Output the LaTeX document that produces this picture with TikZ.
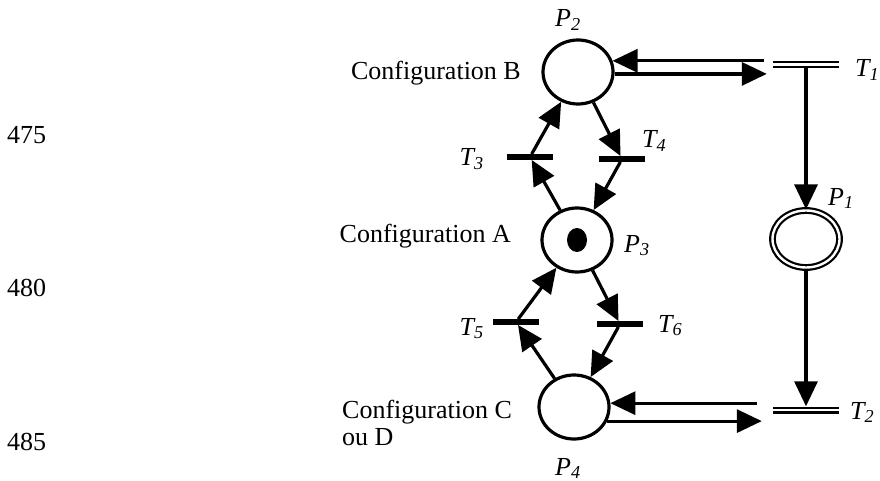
\documentclass[tikz,border=0pt]{standalone}
\usepackage{fontspec}
\setmainfont{Liberation Serif}
\usetikzlibrary{shapes.geometric, arrows.meta}

\tikzset{
  place/.style={draw, ellipse, line width=3.2pt, minimum width=70pt,
                minimum height=64pt, inner sep=0pt},
  token/.style={fill=black, ellipse, minimum width=20pt, minimum height=24pt, inner sep=0pt},
  bar/.style={fill=black, minimum width=46pt, minimum height=5.5pt, inner sep=0pt},
  dbarnode/.style={minimum width=66pt, minimum height=7pt, inner sep=0pt},
  dbar/.style={double, double distance=2.6pt, line width=2.2pt},
  arc/.style={line width=3.2pt, -{Triangle[length=25pt, width=23pt]}},
  lbl/.style={font=\fontsize{26}{27}\selectfont\itshape, inner sep=0pt}
}

\begin{document}
\begin{tikzpicture}[x=1pt, y=-1pt, font=\fontsize{26}{27}\selectfont]
  \useasboundingbox (0,0) rectangle (880,481);

  % places
  \node[place] (P2) at (578,72) {};
  \node[place] (P3) at (577,240) {};
  \node[place] (P4) at (574,407) {};
  \node[place, double, double distance=2.4pt, line width=2.2pt,
        minimum width=67pt, minimum height=57pt] (P1) at (806,239) {};
  \node[token] (tok) at (P3) {};

  % transitions
  \node[bar] (T3) at (530,157) {};
  \node[bar] (T4) at (622,159) {};
  \node[bar] (T5) at (516,322) {};
  \node[bar] (T6) at (620,324) {};
  \node[dbarnode] (T1) at (806,64.5) {};
  \node[dbarnode] (T2) at (806,410) {};
  \draw[dbar] (T1.west) -- (T1.east);
  \draw[dbar] (T2.west) -- (T2.east);

  % arcs
  \draw[arc] (P3) -- (T3);
  \draw[arc] (T3) -- (P2);
  \draw[arc] (P2) -- (T4);
  \draw[arc] (T4) -- (P3);
  \draw[arc] (P4) -- (T5);
  \draw[arc] (T5) -- (P3);
  \draw[arc] (P3) -- (T6);
  \draw[arc] (T6) -- (P4);
  \draw[arc] (T1) -- (P1);
  \draw[arc] (P1) -- (T2);
  \draw[arc, shorten >=6pt] (P2.-3) -- (P2.-3 -| T1.west);
  \draw[arc, shorten <=9pt] (P2.18 -| T1.west) -- (P2.18);
  \draw[arc, shorten <=16pt] (P4.6 -| T2.west) -- (P4.6);
  \draw[arc, shorten >=11pt] (P4.-23) -- (P4.-23 -| T2.west);

  % labels
  \node[lbl, anchor=base west] (lP2) at (555,27) {P\textsubscript{2}};
  \node[lbl, anchor=base west] (lP1) at (828,205) {P\textsubscript{1}};
  \node[lbl, anchor=base west] (lP3) at (624,252) {P\textsubscript{3}};
  \node[lbl, anchor=base west] (lP4) at (555,475) {P\textsubscript{4}};
  \node[lbl, anchor=base west] (lT1) at (855,77) {T\textsubscript{1}};
  \node[lbl, anchor=base west] (lT2) at (850,419) {T\textsubscript{2}};
  \node[lbl, anchor=base east] (lT3) at (484,166) {T\textsubscript{3}};
  \node[lbl, anchor=base west] (lT4) at (642,148) {T\textsubscript{4}};
  \node[lbl, anchor=base east] (lT5) at (484,335) {T\textsubscript{5}};
  \node[lbl, anchor=base west] (lT6) at (658,332) {T\textsubscript{6}};

  \node[anchor=east, inner sep=0pt] (cB) at (521,73) {Configuration B};
  \node[anchor=east, inner sep=0pt] (cA) at (511,236) {Configuration A};
  \node[anchor=west, align=left, inner sep=0pt] (cC) at (342,423) {Configuration C\\ou D};

  \node[anchor=west, inner sep=0pt] (n475) at (7,135) {475};
  \node[anchor=west, inner sep=0pt] (n480) at (7,288) {480};
  \node[anchor=west, inner sep=0pt] (n485) at (7,442) {485};
\end{tikzpicture}
\end{document}
